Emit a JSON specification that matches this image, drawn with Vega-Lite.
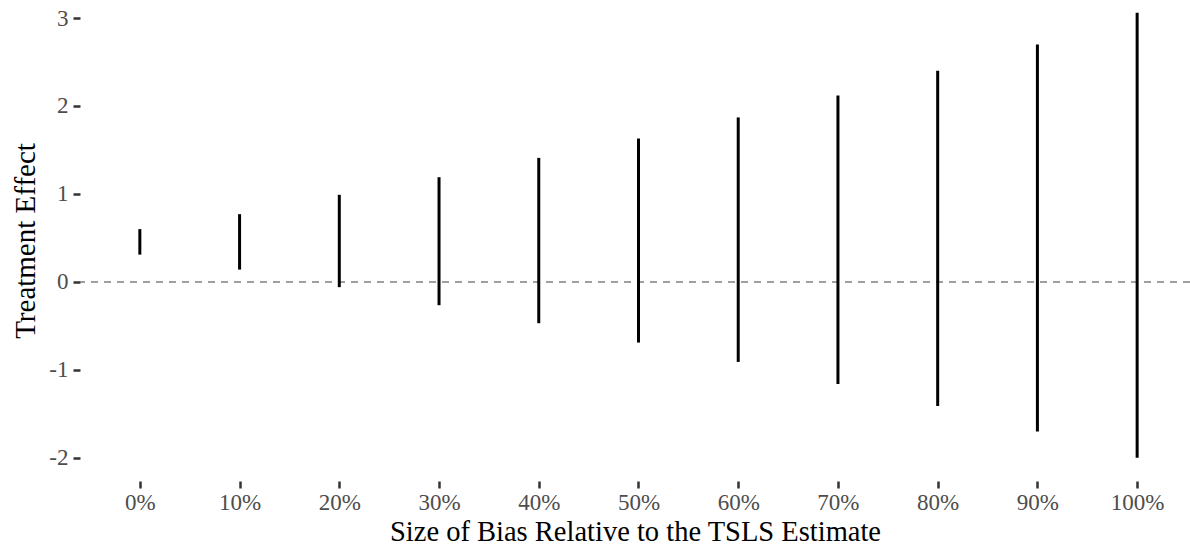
{
  "$schema": "https://vega.github.io/schema/vega-lite/v6.json",
  "autosize": "none",
  "width": 1110,
  "height": 481,
  "padding": {"left": 80, "top": 0, "right": 0, "bottom": 72},
  "background": "white",
  "config": {
    "view": {"stroke": null},
    "font": "Liberation Serif"
  },
  "datasets": {
    "intervals": [
      {"bias": 0, "lower": 0.31, "upper": 0.60},
      {"bias": 10, "lower": 0.14, "upper": 0.77},
      {"bias": 20, "lower": -0.06, "upper": 0.99},
      {"bias": 30, "lower": -0.265, "upper": 1.19},
      {"bias": 40, "lower": -0.47, "upper": 1.41},
      {"bias": 50, "lower": -0.69, "upper": 1.63},
      {"bias": 60, "lower": -0.91, "upper": 1.87},
      {"bias": 70, "lower": -1.16, "upper": 2.12},
      {"bias": 80, "lower": -1.41, "upper": 2.40},
      {"bias": 90, "lower": -1.70, "upper": 2.70},
      {"bias": 100, "lower": -2.00, "upper": 3.06}
    ],
    "ref": [{"y": 0}]
  },
  "layer": [
    {
      "data": {"name": "ref"},
      "mark": {"type": "rule", "color": "#808080", "strokeWidth": 1.5, "strokeDash": [7, 6]},
      "encoding": {
        "y": {"field": "y", "type": "quantitative"}
      }
    },
    {
      "data": {"name": "intervals"},
      "mark": {"type": "rule", "color": "black", "strokeWidth": 3},
      "encoding": {
        "x": {
          "field": "bias",
          "type": "quantitative",
          "scale": {"domain": [-6, 105.3], "nice": false, "zero": false},
          "axis": {
            "title": "Size of Bias Relative to the TSLS Estimate",
            "values": [0, 10, 20, 30, 40, 50, 60, 70, 80, 90, 100],
            "labelExpr": "toString(datum.value) + '%'",
            "domain": false,
            "grid": false,
            "ticks": true,
            "tickSize": 7,
            "tickWidth": 2.5,
            "tickColor": "#333333",
            "labelFont": "Liberation Serif",
            "labelFontSize": 23,
            "labelColor": "#4d4d4d",
            "labelPadding": 3,
            "titleFont": "Liberation Serif",
            "titleFontSize": 28.5,
            "titleFontWeight": "normal",
            "titleColor": "black",
            "titlePadding": 3
          }
        },
        "y": {
          "field": "lower",
          "type": "quantitative",
          "scale": {"domain": [-2.264, 3.205], "nice": false, "zero": false},
          "axis": {
            "title": "Treatment Effect",
            "values": [-2, -1, 0, 1, 2, 3],
            "labelExpr": "toString(datum.value)",
            "domain": false,
            "grid": false,
            "ticks": true,
            "tickSize": 7,
            "tickWidth": 2.5,
            "tickColor": "#333333",
            "labelFont": "Liberation Serif",
            "labelFontSize": 23,
            "labelColor": "#4d4d4d",
            "labelPadding": 5,
            "titleFont": "Liberation Serif",
            "titleFontSize": 29,
            "titleFontWeight": "normal",
            "titleColor": "black",
            "titlePadding": 8
          }
        },
        "y2": {"field": "upper"}
      }
    }
  ]
}
